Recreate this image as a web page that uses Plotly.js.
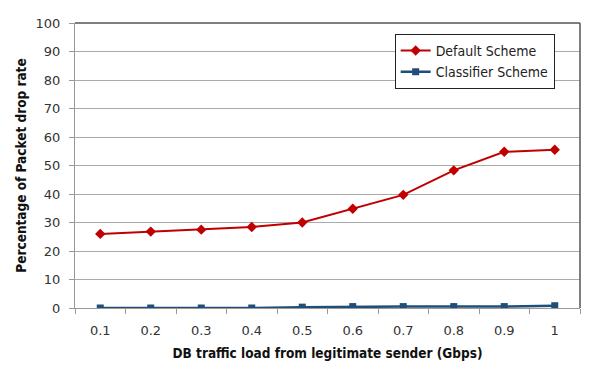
<!DOCTYPE html>
<html><head><meta charset="utf-8">
<script src="https://cdn.plot.ly/plotly-3.0.1.min.js"></script>
<style>body{margin:0;background:#fff}#c{width:614px;height:370px}</style>
</head><body><div id="c"></div>
<script>
const categories = ['0.1','0.2','0.3','0.4','0.5','0.6','0.7','0.8','0.9','1'];
const defaultScheme = [26, 26.8, 27.5, 28.4, 30, 34.8, 39.7, 48.3, 54.8, 55.5];
const classifierScheme = [0, 0, 0, 0, 0.3, 0.5, 0.5, 0.5, 0.5, 0.8];
const yTicks = [0,10,20,30,40,50,60,70,80,90,100];
const font = 'DejaVu Sans, sans-serif';
const cfont = 'DejaVu Sans Condensed, DejaVu Sans, sans-serif';

const traces = [
  {x: categories, y: defaultScheme, name: 'Default Scheme', type: 'scatter', mode: 'lines+markers',
   line: {color: '#C00000', width: 2}, marker: {symbol: 'diamond', size: 8, color: '#C00000'}},
  {x: categories, y: classifierScheme, name: 'Classifier Scheme', type: 'scatter', mode: 'lines+markers',
   line: {color: '#1F4E79', width: 2.5}, marker: {symbol: 'square', size: 7, color: '#1F4E79'}}
];

const layout = {
  width: 614, height: 370,
  margin: {l: 75, r: 34, t: 23, b: 62},
  paper_bgcolor: '#fff', plot_bgcolor: '#fff',
  font: {family: font, size: 13, color: '#222'},
  xaxis: {type: 'category', range: [-0.5, 9.5], tickson: 'boundaries', ticks: 'outside', ticklen: 5,
    tickcolor: '#999', showline: true, linecolor: '#999', linewidth: 1, showgrid: false, zeroline: false,
    ticklabelstandoff: 10,
    tickfont: {family: font, size: 13, color: '#333'},
    title: {text: '<b>DB traffic load from legitimate sender (Gbps)</b>', font: {family: cfont, size: 13.5, color: '#111'}, standoff: 11}},
  yaxis: {range: [0, 100], tickvals: yTicks, ticks: 'outside', ticklen: 5, tickcolor: '#999',
    showline: true, linecolor: '#999', linewidth: 1, gridcolor: '#aaa', gridwidth: 1, zeroline: false,
    ticklabelstandoff: 6,
    tickfont: {family: font, size: 13, color: '#333'},
    title: {text: '<b>Percentage of Packet drop rate</b>', font: {family: cfont, size: 13.5, color: '#111'}, standoff: 5}},
  legend: {x: 0.633, y: 0.962, xanchor: 'left', yanchor: 'top', bordercolor: '#222', borderwidth: 1,
    bgcolor: '#fff', font: {family: cfont, size: 14, color: '#222'}, tracegroupgap: 7, itemwidth: 30},
  shapes: [
    {type: 'line', xref: 'paper', yref: 'paper', x0: 0, x1: 1, y0: 1, y1: 1, line: {color: '#555', width: 1.5}},
    {type: 'line', xref: 'paper', yref: 'paper', x0: 1, x1: 1, y0: 0, y1: 1, line: {color: '#555', width: 1.5}}
  ],
  showlegend: true
};
Plotly.newPlot('c', traces, layout, {displayModeBar: false, staticPlot: true});
</script></body></html>
